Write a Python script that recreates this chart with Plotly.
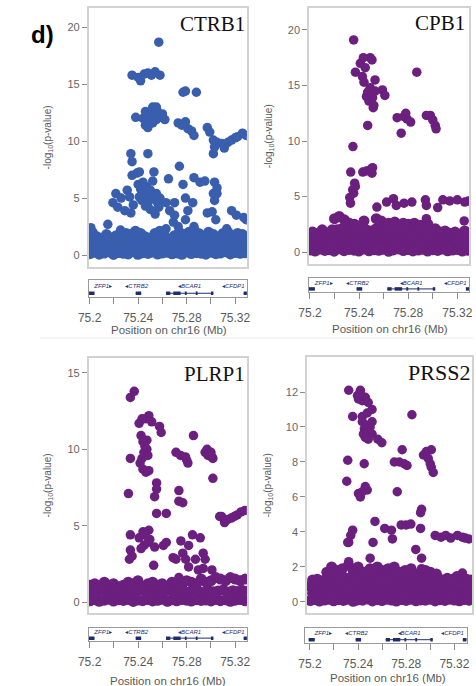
import plotly.graph_objects as go

W, H = 476, 686

# ---------------- data ----------------
tick_vals = [75.20, 75.24, 75.28, 75.32]
tick_text = ["75.2", "75.24", "75.28", "75.32"]
minor_tick_vals = [75.20, 75.22, 75.24, 75.26, 75.28, 75.30, 75.32]

gene_names = ["ZFP1", "CTRB2", "BCAR1", "CFDP1"]
gene_strand = ["+", "-", "-", "-"]
gene_label_x = [75.2112, 75.2388, 75.2824, 75.3184]
gene_start = [75.1990, 75.2380, 75.2630, 75.3270]
gene_end = [75.2040, 75.2425, 75.3020, 75.3300]
exon_start = [75.1990, 75.2380, 75.2630, 75.2690, 75.2785, 75.2875, 75.3000, 75.3270]
exon_end = [75.2040, 75.2425, 75.2665, 75.2750, 75.2800, 75.2890, 75.3020, 75.3300]

band_x_a = [75.2003, 75.2042, 75.2079, 75.2121, 75.2158, 75.2197, 75.2240, 75.2278, 75.2318, 75.2359,
            75.2398, 75.2437, 75.2481, 75.2519, 75.2560, 75.2598, 75.2641, 75.2679, 75.2718, 75.2760,
            75.2799, 75.2838, 75.2881, 75.2919, 75.2958, 75.3001, 75.3040, 75.3078, 75.3121, 75.3160,
            75.3199, 75.3241, 75.3282, 75.3321]
band_x_b = [75.2022, 75.2061, 75.2100, 75.2139, 75.2181, 75.2219, 75.2258, 75.2301, 75.2339, 75.2378,
            75.2420, 75.2459, 75.2500, 75.2539, 75.2579, 75.2620, 75.2660, 75.2700, 75.2739, 75.2780,
            75.2819, 75.2860, 75.2900, 75.2939, 75.2980, 75.3020, 75.3059, 75.3100, 75.3140, 75.3181,
            75.3220, 75.3260, 75.3300, 75.3338]

# CTRB1
ctrb1_points = [
    (75.2570, 18.7),
    (75.2350, 15.8), (75.2400, 15.6), (75.2420, 15.3), (75.2450, 15.9), (75.2480, 16.0), (75.2510, 15.8),
    (75.2540, 16.1), (75.2580, 15.8),
    (75.2770, 14.3), (75.2790, 14.4), (75.2880, 14.3),
    (75.2380, 12.1), (75.2440, 12.0), (75.2460, 11.4), (75.2470, 12.3), (75.2490, 11.8), (75.2500, 12.5),
    (75.2520, 11.6), (75.2530, 12.2), (75.2550, 11.9), (75.2560, 12.6), (75.2580, 12.1), (75.2600, 12.4),
    (75.2460, 12.6), (75.2480, 11.2), (75.2520, 13.0), (75.2550, 13.0), (75.2620, 11.9),
    (75.2730, 11.6), (75.2760, 11.4), (75.2790, 11.7), (75.2810, 11.1), (75.2840, 10.9), (75.2860, 10.5),
    (75.2970, 11.2), (75.2990, 10.8), (75.3020, 10.1), (75.3030, 9.5), (75.3020, 8.9), (75.3050, 9.9),
    (75.3090, 9.8), (75.3110, 9.4), (75.3140, 9.9), (75.3170, 10.1), (75.3200, 10.3), (75.3220, 10.4),
    (75.3260, 10.7), (75.3290, 10.5),
    (75.2340, 8.9), (75.2350, 8.2), (75.2480, 8.9), (75.2740, 7.8),
    (75.2350, 7.0), (75.2390, 7.2), (75.2410, 7.3), (75.2530, 7.3), (75.2650, 6.7), (75.2770, 6.2),
    (75.2860, 6.8), (75.2910, 6.4), (75.2950, 6.5), (75.3030, 6.4), (75.3050, 5.9), (75.3020, 5.4),
    (75.2400, 6.2), (75.2420, 5.8), (75.2440, 6.4), (75.2450, 5.5), (75.2470, 6.0), (75.2490, 5.2),
    (75.2500, 5.7), (75.2520, 6.5), (75.2530, 4.9), (75.2550, 5.4), (75.2560, 4.6), (75.2580, 5.0),
    (75.2430, 4.8), (75.2460, 4.3), (75.2500, 4.0), (75.2540, 3.6), (75.2570, 4.2), (75.2410, 5.1),
    (75.2480, 4.6),
    (75.2216, 5.4), (75.2192, 4.6), (75.2232, 4.2), (75.2310, 5.7), (75.2330, 5.1), (75.2290, 3.9),
    (75.2340, 3.7), (75.2260, 5.0), (75.2360, 4.4), (75.2150, 2.7),
    (75.2630, 4.6), (75.2700, 4.6), (75.2790, 5.0), (75.2810, 3.9), (75.2850, 4.6), (75.2660, 3.9),
    (75.2700, 3.5), (75.2690, 2.9), (75.2790, 3.1), (75.2730, 2.5),
    (75.2970, 3.7), (75.3010, 3.8), (75.3040, 3.1), (75.3170, 3.9), (75.3210, 3.5), (75.3270, 3.3),
    (75.3290, 3.1), (75.3030, 4.8), (75.3050, 5.4),
    (75.2010, 2.4), (75.2255, 2.2), (75.2630, 2.3), (75.2860, 2.5), (75.3130, 2.3),
]
ctrb1_band_0 = [0.12, 0.25, 0.08, 0.18, 0.30, 0.05, 0.22, 0.15, 0.10, 0.28, 0.06, 0.20, 0.14, 0.26, 0.09, 0.17, 0.24,
                0.11, 0.19, 0.07, 0.27, 0.13, 0.21, 0.16, 0.08, 0.25, 0.12, 0.18, 0.29, 0.10, 0.22, 0.15, 0.20, 0.14]
ctrb1_band_1 = [0.75, 0.62, 0.88, 0.70, 0.58, 0.80, 0.66, 0.92, 0.72, 0.60, 0.85, 0.68, 0.77, 0.55, 0.90, 0.64, 0.73,
                0.82, 0.61, 0.79, 0.67, 0.86, 0.71, 0.59, 0.83, 0.69, 0.76, 0.63, 0.89, 0.74, 0.65, 0.81, 0.70, 0.78]
ctrb1_band_2 = [1.3, 1.2, 1.1, 1.3, 1.0, 1.2, 1.1, 1.4, 1.3, 1.4, 1.3, 1.2, 1.1, 1.3, 1.4, 1.2, 1.0,
                1.2, 1.4, 1.3, 1.4, 1.5, 1.3, 1.2, 1.4, 1.3, 1.1, 1.3, 1.4, 1.2, 1.4, 1.3, 1.2, 1.3]
ctrb1_band_3 = [2.0, 1.6, 1.4, 1.8, 1.5, 1.7, 1.6, 1.9, 1.8, 2.1, 1.9, 1.6, 1.5, 1.9, 2.1, 1.6, 1.4,
                1.7, 2.0, 1.8, 2.0, 2.2, 1.9, 1.6, 2.0, 1.8, 1.5, 1.9, 2.0, 1.7, 1.9, 1.8, 1.6, 1.8]

# CPB1
cpb1_points = [
    (75.2356, 19.1),
    (75.2370, 16.2), (75.2410, 17.0), (75.2435, 17.5), (75.2450, 16.6), (75.2490, 17.5), (75.2505, 17.3),
    (75.2427, 15.8), (75.2440, 15.3), (75.2530, 15.5),
    (75.2460, 14.0), (75.2480, 13.6), (75.2500, 14.3), (75.2510, 13.9), (75.2530, 14.5), (75.2490, 14.8),
    (75.2470, 14.4), (75.2520, 13.2), (75.2515, 13.0), (75.2590, 14.6), (75.2610, 14.1),
    (75.2470, 11.4), (75.2350, 9.5),
    (75.2332, 7.2), (75.2430, 7.2), (75.2460, 7.3), (75.2490, 7.4), (75.2510, 7.6), (75.2505, 7.1),
    (75.2364, 6.2), (75.2370, 5.9), (75.2348, 5.6), (75.2356, 5.3), (75.2324, 4.9), (75.2330, 4.4),
    (75.2870, 16.2),
    (75.2710, 12.1), (75.2766, 12.2), (75.2790, 12.0), (75.2820, 11.7), (75.2743, 10.7), (75.2780, 12.5),
    (75.2948, 12.3), (75.2980, 12.3), (75.3000, 11.9), (75.3020, 11.4), (75.3027, 11.1),
    (75.2545, 4.05), (75.2624, 4.5), (75.2680, 4.8), (75.2703, 4.2), (75.2766, 4.4), (75.2830, 4.5),
    (75.2940, 4.7), (75.2948, 4.2), (75.3040, 4.0), (75.3082, 4.7), (75.3138, 4.6), (75.3200, 4.7),
    (75.3260, 4.5), (75.3290, 4.6),
    (75.2948, 3.0), (75.3256, 2.8),
]
cpb1_band_0 = [0.18, 0.09, 0.26, 0.14, 0.21, 0.07, 0.29, 0.12, 0.23, 0.16, 0.08, 0.27, 0.11, 0.20, 0.15, 0.24, 0.06,
               0.19, 0.28, 0.13, 0.22, 0.10, 0.17, 0.25, 0.09, 0.21, 0.14, 0.27, 0.11, 0.18, 0.23, 0.08, 0.16, 0.20]
cpb1_band_1 = [0.72, 0.85, 0.64, 0.90, 0.77, 0.68, 0.83, 0.59, 0.88, 0.74, 0.66, 0.81, 0.92, 0.70, 0.62, 0.86, 0.75,
               0.69, 0.84, 0.58, 0.79, 0.91, 0.67, 0.73, 0.87, 0.61, 0.78, 0.82, 0.65, 0.89, 0.71, 0.76, 0.63, 0.80]
cpb1_band_2 = [1.35, 1.30, 1.45, 1.40, 1.50, 1.40, 1.55, 1.35, 1.45, 1.50, 1.40, 1.55, 1.45, 1.35, 1.50, 1.45, 1.40,
               1.55, 1.35, 1.50, 1.45, 1.40, 1.50, 1.35, 1.45, 1.40, 1.50, 1.35, 1.40, 1.45, 1.30, 1.40, 1.35, 1.40]
cpb1_band_3 = [1.8, 1.5, 2.0, 1.7, 2.0, 2.0, 2.1, 1.9, 2.0, 1.9, 2.1, 2.0, 1.9, 2.1, 2.0, 1.9, 2.0,
               2.1, 1.9, 2.0, 1.9, 2.0, 2.1, 1.9, 2.0, 2.1, 1.8, 1.9, 1.7, 1.8, 1.6, 1.9, 1.7, 1.8]
cpb1_cap_x = [75.2200, 75.2238, 75.2280, 75.2320, 75.2362, 75.2440, 75.2540, 75.2580, 75.2640, 75.2690,
              75.2760, 75.2800, 75.2850, 75.2900, 75.2960]
cpb1_cap_y = [3.0, 3.2, 2.9, 2.6, 2.5, 2.8, 3.0, 2.8, 2.6, 2.7, 2.6, 2.5, 2.6, 2.4, 2.5]

# PLRP1
plrp1_points = [
    (75.2368, 13.8), (75.2336, 13.4),
    (75.2408, 11.7), (75.2432, 12.0), (75.2488, 12.2), (75.2512, 11.8), (75.2576, 11.5), (75.2590, 11.1),
    (75.2460, 12.0),
    (75.2424, 10.9), (75.2440, 10.5), (75.2456, 10.2), (75.2472, 10.6), (75.2448, 9.8), (75.2432, 9.4),
    (75.2416, 9.1), (75.2440, 8.7), (75.2464, 8.5), (75.2488, 8.6), (75.2472, 10.0), (75.2480, 9.6),
    (75.2336, 9.4),
    (75.2552, 7.8), (75.2552, 7.4), (75.2536, 6.9), (75.2320, 7.1),
    (75.2552, 5.8), (75.2632, 5.8),
    (75.2736, 7.3), (75.2736, 6.6), (75.2768, 6.5),
    (75.2712, 9.8), (75.2750, 9.6), (75.2790, 9.5), (75.2810, 9.1), (75.2800, 9.3),
    (75.2856, 10.9),
    (75.2952, 9.8), (75.2976, 9.6), (75.3008, 9.5), (75.3016, 9.4), (75.2968, 10.0), (75.3000, 9.8),
    (75.3016, 8.1),
    (75.3088, 5.6), (75.3112, 5.2), (75.3136, 5.4), (75.3168, 5.5), (75.3192, 5.6), (75.3216, 5.7),
    (75.3248, 5.9), (75.3280, 6.0), (75.3072, 5.6),
    (75.2336, 4.4), (75.2408, 4.2), (75.2448, 3.7), (75.2488, 4.7), (75.2496, 4.1), (75.2424, 3.5),
    (75.2480, 3.9), (75.2456, 4.4), (75.2440, 4.6),
    (75.2536, 3.6), (75.2608, 3.7), (75.2632, 3.9), (75.2752, 4.0), (75.2848, 4.4), (75.2912, 4.2),
    (75.2816, 3.7),
    (75.2336, 3.4), (75.2328, 2.8), (75.2350, 3.0), (75.2528, 2.4),
    (75.2688, 2.9), (75.2712, 2.8), (75.2768, 3.2), (75.2792, 2.8), (75.2816, 2.3),
    (75.2872, 2.8), (75.2896, 2.1), (75.2936, 3.2), (75.2952, 2.8), (75.2936, 2.2), (75.3008, 2.1),
    (75.2736, 1.6), (75.2808, 1.4),
]
plrp1_band_0 = [0.08, 0.15, 0.05, 0.12, 0.18, 0.06, 0.14, 0.10, 0.17, 0.04, 0.13, 0.09, 0.16, 0.07, 0.11, 0.18, 0.05,
                0.14, 0.08, 0.16, 0.12, 0.06, 0.15, 0.10, 0.13, 0.07, 0.17, 0.09, 0.14, 0.05, 0.12, 0.16, 0.08, 0.11]
plrp1_band_1 = [0.70, 0.63, 0.77, 0.65, 0.73, 0.60, 0.75, 0.67, 0.72, 0.64, 0.78, 0.69, 0.62, 0.74, 0.66, 0.71, 0.76,
                0.61, 0.73, 0.68, 0.65, 0.77, 0.70, 0.63, 0.75, 0.67, 0.72, 0.79, 0.66, 0.74, 0.69, 0.76, 0.71, 0.73]
plrp1_band_2 = [1.1, 1.2, 1.0, 1.3, 1.1, 1.2, 1.0, 1.1, 1.3, 1.2, 1.4, 1.0, 1.2, 1.3, 1.1, 1.2, 1.0,
                1.3, 1.2, 1.1, 1.4, 1.3, 1.2, 1.5, 1.3, 1.4, 1.6, 1.5, 1.4, 1.6, 1.5, 1.4, 1.5, 1.5]

# PRSS2
prss2_points = [
    (75.2322, 12.1), (75.2419, 12.1), (75.2395, 11.8), (75.2403, 11.6), (75.2435, 11.5), (75.2460, 11.7),
    (75.2484, 11.4), (75.2420, 11.9),
    (75.2355, 10.6), (75.2435, 10.6), (75.2476, 10.8), (75.2516, 11.0),
    (75.2435, 10.3), (75.2452, 9.9), (75.2468, 10.1), (75.2484, 9.7), (75.2500, 10.0), (75.2516, 9.6),
    (75.2460, 9.4), (75.2484, 9.3), (75.2516, 10.3), (75.2444, 9.6),
    (75.2564, 9.3), (75.2597, 9.1),
    (75.2847, 10.7),
    (75.2314, 8.1), (75.2451, 7.9),
    (75.2701, 8.0), (75.2742, 8.0), (75.2782, 7.9), (75.2806, 7.8), (75.2766, 8.7),
    (75.2943, 8.4), (75.2967, 8.6), (75.3008, 8.7), (75.2983, 8.2), (75.2999, 7.9), (75.3008, 7.7),
    (75.3024, 7.4),
    (75.2306, 6.9),
    (75.2403, 6.2), (75.2419, 6.0), (75.2460, 6.6), (75.2476, 6.4), (75.2435, 6.3),
    (75.2725, 6.3), (75.2927, 5.3),
    (75.2540, 4.6), (75.2621, 4.2), (75.2677, 4.1), (75.2685, 3.6), (75.2758, 4.4), (75.2798, 4.4),
    (75.2838, 4.45), (75.2919, 4.2), (75.2919, 5.1), (75.2879, 3.0), (75.2927, 2.5), (75.2927, 1.9),
    (75.2355, 4.1), (75.2339, 3.8), (75.2322, 3.4), (75.2314, 3.4), (75.2524, 3.4),
    (75.2322, 2.3), (75.2500, 2.5),
    (75.3040, 3.8), (75.3088, 3.7), (75.3128, 3.8), (75.3169, 3.65), (75.3225, 3.8), (75.3266, 3.7),
    (75.3290, 3.65), (75.3320, 3.6),
    (75.3266, 1.65),
]
prss2_band_0 = [0.08, 0.14, 0.05, 0.11, 0.16, 0.07, 0.13, 0.09, 0.15, 0.04, 0.12, 0.10, 0.17, 0.06, 0.13, 0.08, 0.15,
                0.11, 0.05, 0.14, 0.09, 0.16, 0.07, 0.12, 0.10, 0.15, 0.06, 0.13, 0.09, 0.16, 0.11, 0.07, 0.14, 0.10]
prss2_band_1 = [0.50, 0.44, 0.56, 0.48, 0.53, 0.42, 0.58, 0.47, 0.52, 0.55, 0.45, 0.51, 0.57, 0.43, 0.54, 0.49, 0.46,
                0.56, 0.50, 0.53, 0.44, 0.58, 0.48, 0.52, 0.45, 0.55, 0.50, 0.47, 0.57, 0.43, 0.53, 0.49, 0.51, 0.54]
prss2_band_2 = [0.90, 0.95, 0.88, 0.98, 0.92, 1.00, 0.86, 0.96, 0.93, 0.89, 0.99, 0.94, 0.87, 0.97, 0.91, 1.00, 0.88,
                0.95, 0.92, 0.98, 0.90, 0.96, 0.87, 0.94, 0.99, 0.91, 0.95, 0.89, 0.97, 0.93, 0.90, 0.96, 0.92, 0.94]
prss2_band_3 = [1.25, 1.30, 1.20, 1.35, 1.40, 1.30, 1.45, 1.35, 1.40, 1.30, 1.45, 1.35, 1.40, 1.45, 1.30, 1.40, 1.35,
                1.45, 1.30, 1.40, 1.35, 1.45, 1.30, 1.40, 1.35, 1.30, 1.40, 1.25, 1.35, 1.30, 1.45, 1.35, 1.30, 1.25]
prss2_cap_x = [75.2140, 75.2180, 75.2230, 75.2270, 75.2320, 75.2360, 75.2400, 75.2450, 75.2500, 75.2560,
               75.2600, 75.2650, 75.2700, 75.2740, 75.2790, 75.2840, 75.2880, 75.2960, 75.3000, 75.3050]
prss2_cap_y = [1.7, 2.0, 1.8, 1.9, 2.1, 1.8, 2.0, 1.7, 1.9, 2.0, 1.8, 1.9, 2.0, 1.7, 1.8, 1.9, 1.6, 1.8, 1.7, 1.6]

BLUE = "#3a5eae"
PURPLE = "#6b1f7e"
GENE_COL = "#1f2d6e"
MARKER_SIZE = 9.5
BAND_MARKER_SIZE = 11


def px_x(p):
    return p / W


def px_y(p):
    return 1 - p / H


panels = [
    dict(title="CTRB1", color=BLUE, points=ctrb1_points,
         bands=[(band_x_a, ctrb1_band_0), (band_x_b, ctrb1_band_1), (band_x_a, ctrb1_band_2), (band_x_b, ctrb1_band_3)],
         box=(80, 243, 8, 267), xr=(75.1992, 75.3296), yr=(-1.05, 21.7), yticks=[0, 5, 10, 15, 20],
         gbox=(80, 243, 280, 297), gxr=(75.1992, 75.3296), tpos=(243, 24, 21), ytx=38, xt=(163, 330)),
    dict(title="CPB1", color=PURPLE, points=cpb1_points,
         bands=[(band_x_a, cpb1_band_0), (band_x_b, cpb1_band_1), (band_x_a, cpb1_band_2), (band_x_b, cpb1_band_3),
                (cpb1_cap_x, cpb1_cap_y)],
         box=(307, 472, 8, 264), xr=(75.1992, 75.3296), yr=(-1.08, 21.98), yticks=[0, 5, 10, 15, 20],
         gbox=(307, 472, 278, 292), gxr=(75.1992, 75.3296), tpos=(470, 23, 21), ytx=266, xt=(390, 329)),
    dict(title="PLRP1", color=PURPLE, points=plrp1_points,
         bands=[(band_x_a, plrp1_band_0), (band_x_b, plrp1_band_1), (band_x_a, plrp1_band_2)],
         box=(80, 243, 358, 613), xr=(75.1992, 75.3296), yr=(-0.72, 15.98), yticks=[0, 5, 10, 15],
         gbox=(80, 243, 628, 641), gxr=(75.1992, 75.3296), tpos=(243, 374, 21), ytx=38, xt=(162, 681)),
    dict(title="PRSS2", color=PURPLE, points=prss2_points,
         bands=[(band_x_a, prss2_band_0), (band_x_b, prss2_band_1), (band_x_a, prss2_band_2), (band_x_b, prss2_band_3),
                (prss2_cap_x, prss2_cap_y)],
         box=(305, 475, 357, 613), xr=(75.1976, 75.3346), yr=(-0.63, 14.0), yticks=[0, 2, 4, 6, 8, 10, 12],
         gbox=(303, 470, 628, 643), gxr=(75.1960, 75.3306), tpos=(475, 372, 22), ytx=265, xt=(388, 678)),
]

fig = go.Figure()
layout = dict(
    width=W, height=H, margin=dict(l=0, r=0, t=0, b=0),
    paper_bgcolor="white", plot_bgcolor="white", showlegend=False,
    font=dict(family="Liberation Sans, Arial, sans-serif", color="#555555"),
)
annotations = []
shapes = []

for i, p in enumerate(panels):
    k = i + 1
    g = i + 5
    xa, ya = f"x{k}", f"y{k}"
    gxa, gya = f"x{g}", f"y{g}"
    ax_key = "xaxis" if k == 1 else f"xaxis{k}"
    ay_key = "yaxis" if k == 1 else f"yaxis{k}"
    l, r, t, b = p["box"]
    layout[ax_key] = dict(domain=[px_x(l), px_x(r)], range=list(p["xr"]), anchor=ya,
                          showticklabels=False, ticks="", showgrid=False, zeroline=False,
                          showline=True, mirror=True, linecolor="#d2d2d2", linewidth=1.5)
    layout[ay_key] = dict(domain=[px_y(b), px_y(t)], range=list(p["yr"]), anchor=xa,
                          tickvals=p["yticks"], ticks="outside", ticklen=5, tickcolor="#8c8c8c",
                          tickfont=dict(size=11, color="#666666"), showgrid=False, zeroline=False,
                          showline=True, mirror=True, linecolor="#d2d2d2", linewidth=1.5)
    gl, gr, gt, gb = p["gbox"]
    layout[f"xaxis{g}"] = dict(domain=[px_x(gl), px_x(gr)], range=list(p["gxr"]), anchor=gya,
                               tickvals=tick_vals, ticktext=tick_text, ticks="outside", ticklen=6,
                               tickcolor="#8c8c8c", tickfont=dict(size=12, color="#5a5a5a"),
                               ticklabelstandoff=4,
                               minor=dict(tickvals=minor_tick_vals, ticks="outside", ticklen=6,
                                          tickcolor="#8c8c8c", showgrid=False),
                               showgrid=False, zeroline=False, showline=True, mirror=True,
                               linecolor="#9a9a9a", linewidth=1)
    layout[f"yaxis{g}"] = dict(domain=[px_y(gb), px_y(gt)], range=[0, 1], anchor=gxa,
                               showticklabels=False, ticks="", showgrid=False, zeroline=False,
                               showline=True, mirror=True, linecolor="#9a9a9a", linewidth=1)

    # dense background band first, then the highlighted SNPs
    for bx, by in p["bands"]:
        fig.add_trace(go.Scatter(x=bx, y=by, mode="markers", xaxis=xa, yaxis=ya,
                                 marker=dict(size=BAND_MARKER_SIZE, color=p["color"], line=dict(width=0)),
                                 hoverinfo="skip"))
    fig.add_trace(go.Scatter(x=[q[0] for q in p["points"]], y=[q[1] for q in p["points"]],
                             mode="markers", xaxis=xa, yaxis=ya,
                             marker=dict(size=MARKER_SIZE, color=p["color"], line=dict(width=0))))

    # gene track
    lx, ly = [], []
    for s, e in zip(gene_start, gene_end):
        lx += [s, e, None]
        ly += [0.22, 0.22, None]
    fig.add_trace(go.Scatter(x=lx, y=ly, mode="lines", xaxis=gxa, yaxis=gya,
                             line=dict(color=GENE_COL, width=1), hoverinfo="skip"))
    ex, ey = [], []
    for s, e in zip(exon_start, exon_end):
        ex += [s, e, None]
        ey += [0.22, 0.22, None]
    fig.add_trace(go.Scatter(x=ex, y=ey, mode="lines", xaxis=gxa, yaxis=gya,
                             line=dict(color=GENE_COL, width=3.5), hoverinfo="skip"))
    labels = [("<i>%s</i>\u25b8" % n) if s == "+" else ("\u25c2<i>%s</i>" % n)
              for n, s in zip(gene_names, gene_strand)]
    fig.add_trace(go.Scatter(x=gene_label_x, y=[0.62] * len(gene_names), mode="text", text=labels,
                             xaxis=gxa, yaxis=gya, cliponaxis=False,
                             textfont=dict(size=6, color=GENE_COL, family="Liberation Sans, Arial"),
                             hoverinfo="skip"))

    # titles
    tx, ty, ts = p["tpos"]
    annotations.append(dict(text=p["title"], xref="paper", yref="paper", x=px_x(tx), y=px_y(ty),
                            xanchor="right", yanchor="middle", showarrow=False,
                            font=dict(family="Liberation Serif, Times New Roman, serif", size=ts, color="#111111")))
    annotations.append(dict(text="-log<sub>10</sub>(p-value)", xref="paper", yref="paper",
                            x=px_x(p["ytx"]), y=px_y((t + b) / 2), textangle=-90,
                            xanchor="center", yanchor="middle", showarrow=False,
                            font=dict(size=10, color="#5a5a5a")))
    annotations.append(dict(text="Position on chr16 (Mb)", xref="paper", yref="paper",
                            x=px_x(p["xt"][0]), y=px_y(p["xt"][1]), xanchor="center", yanchor="middle",
                            showarrow=False, font=dict(size=11.5, color="#5a5a5a")))

annotations.append(dict(text="<b>d)</b>", xref="paper", yref="paper", x=px_x(32), y=px_y(34),
                        xanchor="center", yanchor="middle", showarrow=False,
                        font=dict(size=24, color="black", family="Liberation Sans, Arial")))
shapes.append(dict(type="line", xref="paper", yref="paper", x0=px_x(30), x1=1, y0=px_y(338), y1=px_y(338),
                   line=dict(color="#e8e8e8", width=1)))

layout["annotations"] = annotations
layout["shapes"] = shapes
fig.update_layout(**layout)
fig.write_html("out.html")
